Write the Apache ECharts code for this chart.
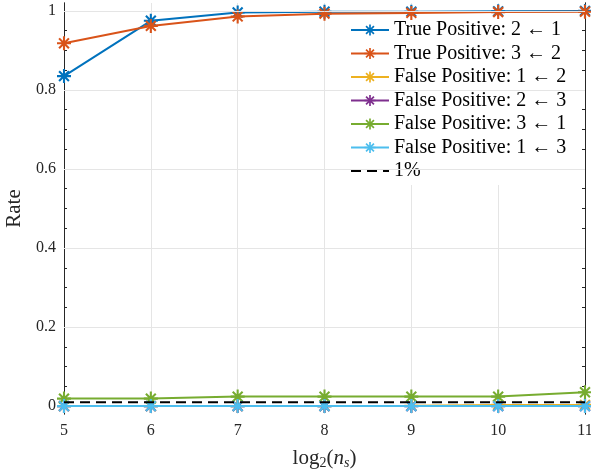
<!DOCTYPE html>
<html><head><meta charset="utf-8">
<script src="https://cdn.jsdelivr.net/npm/echarts@6/dist/echarts.min.js"></script>
<style>html,body{margin:0;padding:0;background:#fff}#c{width:591px;height:472px}</style>
</head><body><div id="c"></div>
<script>
var xValues = [5, 6, 7, 8, 9, 10, 11];
var tp21 = [0.835, 0.975, 0.996, 0.998, 0.998, 0.999, 1.0];
var tp32 = [0.918, 0.962, 0.986, 0.993, 0.995, 0.997, 0.998];
var fp12 = [0, 0, 0, 0, 0.001, 0.003, 0.003];
var fp23 = [0, 0, 0, 0, 0, 0, 0];
var fp31 = [0.019, 0.019, 0.024, 0.024, 0.024, 0.024, 0.035];
var fp13 = [0, 0, 0, 0, 0, 0, 0];
var onePct = [0.01, 0.01, 0.01, 0.01, 0.01, 0.01, 0.01];
var seriesNames = ['True Positive: 2 \u2190 1', 'True Positive: 3 \u2190 2', 'False Positive: 1 \u2190 2',
  'False Positive: 2 \u2190 3', 'False Positive: 3 \u2190 1', 'False Positive: 1 \u2190 3', '1%'];
var seriesColors = ['#0072BD', '#D95319', '#EDB120', '#7E2F8E', '#77AC30', '#4DBEEE', '#000000'];
var yMajor = [0, 0.2, 0.4, 0.6, 0.8, 1];
var yMinor = [0, 0.05, 0.1, 0.15, 0.2, 0.25, 0.3, 0.35, 0.4, 0.45, 0.5, 0.55, 0.6, 0.65, 0.7, 0.75, 0.8, 0.85, 0.9, 0.95, 1];
var yTickLabels = ['0', '0.2', '0.4', '0.6', '0.8', '1'];

var STAR = 'path://M0 8.5L20 8.5L20 11.5L0 11.5Z M8.5 0L11.5 0L11.5 20L8.5 20Z M4.0 1.9L18.1 16.0L16.0 18.1L1.9 4.0Z M16.0 1.9L18.1 4.0L4.0 18.1L1.9 16.0Z';
var FONT = 'Liberation Serif';
var YMIN = -0.02, YMAX = 1.02;

function pairs(v) { return xValues.map(function (x, i) { return [x, v[i]]; }); }
var allData = [tp21, tp32, fp12, fp23, fp31, fp13, onePct];

var series = allData.map(function (d, i) {
  var dashed = i === 6;
  return {
    name: seriesNames[i], type: 'line', data: pairs(d),
    symbol: dashed ? 'none' : STAR, symbolSize: 14, showSymbol: !dashed,
    itemStyle: { color: seriesColors[i] },
    lineStyle: { color: seriesColors[i], width: 2, type: dashed ? [10, 6] : 'solid' },
    z: 3 + i, animation: false
  };
});
series.push({
  type: 'line', data: [], silent: true, z: 1, animation: false,
  markLine: {
    silent: true, symbol: 'none', label: { show: false },
    lineStyle: { color: '#e5e5e5', width: 1, type: 'solid' },
    data: yMajor.map(function (v) { return { yAxis: v }; })
  }
});

function yAx(pos, vals, len, labels) {
  return {
    type: 'value', position: pos, min: YMIN, max: YMAX,
    axisLine: { show: true, lineStyle: { color: '#262626', width: 1 } },
    axisTick: { show: true, inside: true, length: len, customValues: vals, lineStyle: { color: '#262626' } },
    axisLabel: labels ? {
      show: true, customValues: yMajor, fontFamily: FONT, fontSize: 16, color: '#262626', margin: 8,
      formatter: function (v) { var k = yMajor.indexOf(Math.round(v * 100) / 100); return k >= 0 ? yTickLabels[k] : ''; }
    } : { show: false },
    splitLine: { show: false }
  };
}
var yAxes = [yAx('left', yMajor, 6, true), yAx('left', yMinor, 3, false), yAx('right', yMajor, 6, false), yAx('right', yMinor, 3, false)];
yAxes[0].name = 'Rate';
yAxes[0].nameLocation = 'middle';
yAxes[0].nameGap = 32;
yAxes[0].nameTextStyle = { fontFamily: FONT, fontSize: 21, color: '#262626' };

var legendData = seriesNames.map(function (n, i) {
  return i === 6 ? { name: n, itemStyle: { color: 'rgba(0,0,0,0)', borderWidth: 0 } } : { name: n };
});

var option = {
  backgroundColor: '#fff',
  animation: false,
  grid: { left: 64, right: 6, top: 3, bottom: 58, containLabel: false, outerBoundsMode: 'none' },
  legend: {
    orient: 'vertical', left: 346, top: 16, backgroundColor: '#fff', padding: [4, 4, 4, 4],
    itemWidth: 38, itemHeight: 14, itemGap: 3.5,
    data: legendData,
    textStyle: { fontFamily: FONT, fontSize: 20, color: '#000' }
  },
  xAxis: [{
    type: 'value', min: 5, max: 11, interval: 1, position: 'bottom',
    axisLine: { show: true, lineStyle: { color: '#262626' } },
    axisTick: { show: true, inside: true, length: 6, lineStyle: { color: '#262626' } },
    axisLabel: { fontFamily: FONT, fontSize: 16, color: '#262626', margin: 9 },
    splitLine: { show: true, lineStyle: { color: '#e5e5e5' } },
    name: '{t|log}{s|2}{t|(}{i|n}{si|s}{t|)}', nameLocation: 'middle', nameGap: 32,
    nameTextStyle: {
      fontFamily: FONT, fontSize: 21, color: '#262626',
      rich: {
        t: { fontFamily: FONT, fontSize: 21, color: '#262626' },
        i: { fontFamily: FONT, fontSize: 21, fontStyle: 'italic', color: '#262626' },
        s: { fontFamily: FONT, fontSize: 14, color: '#262626', padding: [10, 0, 0, 0] },
        si: { fontFamily: FONT, fontSize: 14, fontStyle: 'italic', color: '#262626', padding: [10, 0, 0, 0] }
      }
    }
  }, {
    type: 'value', min: 5, max: 11, interval: 1, position: 'top',
    axisLine: { show: true, lineStyle: { color: '#262626' } },
    axisTick: { show: true, inside: true, length: 6, lineStyle: { color: '#262626' } },
    axisLabel: { show: false }, splitLine: { show: false }
  }],
  yAxis: yAxes,
  series: series
};
var chart = echarts.init(document.getElementById('c'));
chart.setOption(option);
</script></body></html>
